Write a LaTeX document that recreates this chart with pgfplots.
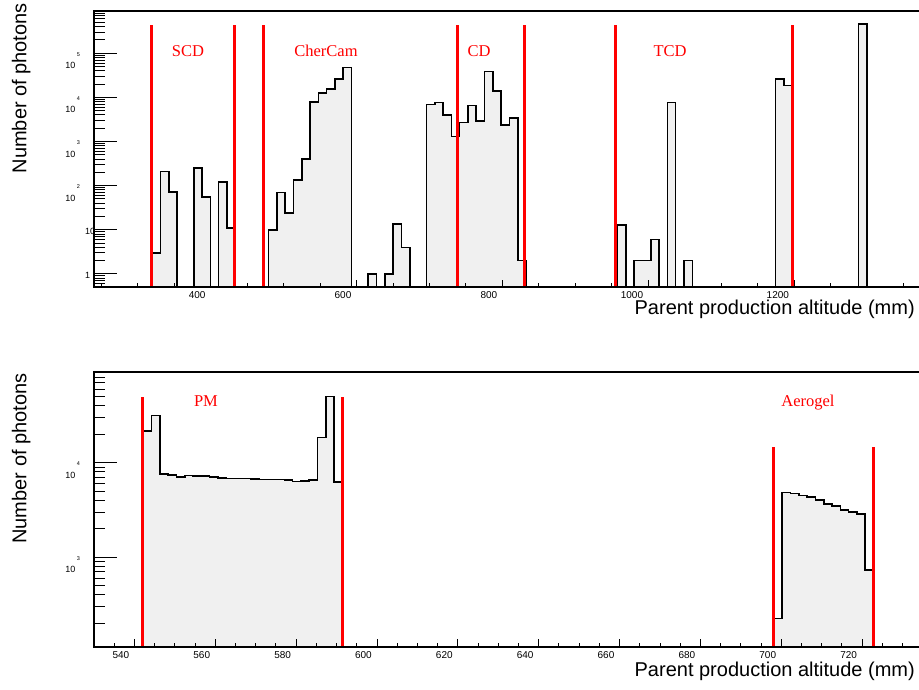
\documentclass[border=0pt]{standalone}
\usepackage{fontspec}
\setmainfont{Liberation Sans}
\newfontfamily\rootserif{Liberation Serif}
\usepackage{pgfplots}
\pgfplotsset{compat=1.18}
\definecolor{histfill}{RGB}{240,240,240}
\newcommand{\tk}[1]{\raisebox{-4.5pt}{#1}}
\newcommand{\tenp}[1]{\hspace*{-26pt}\raisebox{-15.5pt}{10}\hspace{1.5pt}\raisebox{-3pt}{\fontsize{5.5}{5.5}\selectfont #1}}
\begin{document}
\begin{tikzpicture}
\useasboundingbox (0,0) rectangle (919pt,689pt);
% ---------------- top panel ----------------
\begin{axis}[scale only axis, ymode=log, axis on top, anchor=south west,
  tick align=inside, xtick pos=left, ytick pos=left,
  axis line style={line width=1.8pt, black},
  tick style={black, line width=1pt},
  xtick style={/pgfplots/major tick length=7.5pt, /pgfplots/minor tick length=3.8pt},
  ytick style={/pgfplots/major tick length=23pt, /pgfplots/minor tick length=11pt},
  yticklabel style={anchor=base west, inner sep=0pt, xshift=-9pt, font=\fontsize{9}{9}\selectfont},
  xticklabel style={anchor=north east, inner sep=0pt, xshift=-5pt, yshift=-4.7pt, font=\fontsize{10}{10}\selectfont},
  xlabel={Parent production altitude (mm)},
  ylabel={Number of photons},
  label style={font=\fontsize{20}{24}\selectfont, inner sep=0pt},
  at={(94pt,402pt)}, width=846pt, height=276pt,
  xmin=240, xmax=1400, ymin=0.507, ymax=9.08e5,
  xtick={400,600,800,1000,1200}, xticklabels={400,600,800,1000,1200},
  minor xtick={250,300,350,450,500,550,650,700,750,850,900,950,1050,1100,1150,1250,1300,1350},
  ytick={1,10,100,1000,10000,100000},
  yticklabels={\tk{1},\tk{10},\tenp{2},\tenp{3},\tenp{4},\tenp{5}},
  minor ytick={0.6,0.7,0.8,0.9,2,3,4,5,6,7,8,9,20,30,40,50,60,70,80,90,200,300,400,500,600,700,800,900,2000,3000,4000,5000,6000,7000,8000,9000,20000,30000,40000,50000,60000,70000,80000,90000,200000,300000,400000,500000,600000,700000,800000,900000},
  xlabel style={at={(axis description cs:0.9704,-0.1014)}, anchor=base east},
  ylabel style={at={(axis description cs:-0.0799,1.029)}, anchor=base east},
]
\addplot[const plot mark left, fill=histfill, draw=black, line width=1.6pt, mark=none] coordinates {
(319.76,0.507) (319.76,3) (331.15,208) (342.55,71) (353.94,0.507) (376.73,248) (388.12,55) (399.52,0.507) (410.91,123) (422.30,11) (433.70,0.507)
(479.27,10) (490.67,70) (502.06,24) (513.46,135) (524.85,400) (536.24,7760) (547.64,12400) (559.03,15500) (570.43,26200) (581.82,47200) (593.21,0.507)
(616.00,1) (627.40,0.507) (638.79,1) (650.18,13.5) (661.58,4) (672.97,0.507)
(695.76,6980) (707.15,7600) (718.55,4000) (729.94,1290) (741.34,2680) (752.73,6500) (764.12,2880) (775.52,38300) (786.91,14200) (798.31,2375) (809.70,3370) (821.09,2) (832.49,0.507)
(957.82,13) (969.22,0.507) (980.61,2) (992.00,2) (1003.40,6) (1014.79,0.507) (1026.19,7600) (1037.58,0.507) (1048.97,2) (1060.37,0.507)
(1174.31,26200) (1185.70,18800) (1197.10,0.507) (1288.25,454000) (1299.64,0.507)
};
\addplot[red, line width=3pt, mark=none] coordinates {(319.1,0.507) (319.1,4.38e5)};
\addplot[red, line width=3pt, mark=none] coordinates {(432.4,0.507) (432.4,4.38e5)};
\addplot[red, line width=3pt, mark=none] coordinates {(472.1,0.507) (472.1,4.38e5)};
\addplot[red, line width=3pt, mark=none] coordinates {(738.7,0.507) (738.7,4.38e5)};
\addplot[red, line width=3pt, mark=none] coordinates {(830.0,0.507) (830.0,4.38e5)};
\addplot[red, line width=3pt, mark=none] coordinates {(955.3,0.507) (955.3,4.38e5)};
\addplot[red, line width=3pt, mark=none] coordinates {(1197.5,0.507) (1197.5,4.38e5)};
\node[red, anchor=base, font=\rootserif\fontsize{16.5}{16.5}\selectfont] at (axis cs:368.9,83700) {SCD};
\node[red, anchor=base, font=\rootserif\fontsize{16.5}{16.5}\selectfont] at (axis cs:558.1,83700) {CherCam};
\node[red, anchor=base, font=\rootserif\fontsize{16.5}{16.5}\selectfont] at (axis cs:767.9,83700) {CD};
\node[red, anchor=base, font=\rootserif\fontsize{16.5}{16.5}\selectfont] at (axis cs:1029.8,83700) {TCD};
\end{axis}
% ---------------- bottom panel ----------------
\begin{axis}[scale only axis, ymode=log, axis on top, anchor=south west,
  tick align=inside, xtick pos=left, ytick pos=left,
  axis line style={line width=1.8pt, black},
  tick style={black, line width=1pt},
  xtick style={/pgfplots/major tick length=7.5pt, /pgfplots/minor tick length=3.8pt},
  ytick style={/pgfplots/major tick length=23pt, /pgfplots/minor tick length=11pt},
  yticklabel style={anchor=base west, inner sep=0pt, xshift=-9pt, font=\fontsize{9}{9}\selectfont},
  xticklabel style={anchor=north east, inner sep=0pt, xshift=-5pt, yshift=-4.7pt, font=\fontsize{10}{10}\selectfont},
  xlabel={Parent production altitude (mm)},
  ylabel={Number of photons},
  label style={font=\fontsize{20}{24}\selectfont, inner sep=0pt},
  at={(94pt,42.3pt)}, width=849pt, height=275pt,
  xmin=530, xmax=740, ymin=113.5, ymax=91600,
  xtick={540,560,580,600,620,640,660,680,700,720},
  xticklabels={540,560,580,600,620,640,660,680,700,720},
  minor xtick={530,535,545,550,555,565,570,575,585,590,595,605,610,615,625,630,635,645,650,655,665,670,675,685,690,695,705,710,715,725,730,735},
  ytick={1000,10000}, yticklabels={\tenp{3},\tenp{4}},
  minor ytick={200,300,400,500,600,700,800,900,2000,3000,4000,5000,6000,7000,8000,9000,20000,30000,40000,50000,60000,70000,80000,90000},
  xlabel style={at={(axis description cs:0.9670,-0.1091)}, anchor=base east},
  ylabel style={at={(axis description cs:-0.0796,0.9942)}, anchor=base east},
]
\addplot[const plot mark left, fill=histfill, draw=black, line width=1.6pt, mark=none] coordinates {
(542.19,113.5) (542.19,21600) (544.24,31400) (546.30,7600) (548.35,7410) (550.40,7110) (552.46,7290) (554.51,7250) (556.56,7250) (558.61,7110) (560.67,6940) (562.72,6840) (564.77,6840) (566.83,6840) (568.88,6725) (570.93,6675) (572.99,6675) (575.04,6650) (577.09,6560) (579.14,6300) (581.20,6440) (583.25,6560) (585.30,18400) (587.36,49900) (589.41,6250) (591.46,113.5)
(698.19,226) (700.24,4860) (702.30,4740) (704.35,4480) (706.40,4310) (708.46,4030) (710.51,3650) (712.56,3480) (714.61,3160) (716.67,2990) (718.72,2850) (720.77,735) (722.83,113.5)
};
\addplot[red, line width=3pt, mark=none] coordinates {(541.95,113.5) (541.95,49900)};
\addplot[red, line width=3pt, mark=none] coordinates {(591.42,113.5) (591.42,49900)};
\addplot[red, line width=3pt, mark=none] coordinates {(698.19,113.5) (698.19,14760)};
\addplot[red, line width=3pt, mark=none] coordinates {(722.92,113.5) (722.92,14760)};
\node[red, anchor=base, font=\rootserif\fontsize{16.5}{16.5}\selectfont] at (axis cs:557.7,39100) {PM};
\node[red, anchor=base, font=\rootserif\fontsize{16.5}{16.5}\selectfont] at (axis cs:706.6,39100) {Aerogel};
\end{axis}
\end{tikzpicture}
\end{document}
